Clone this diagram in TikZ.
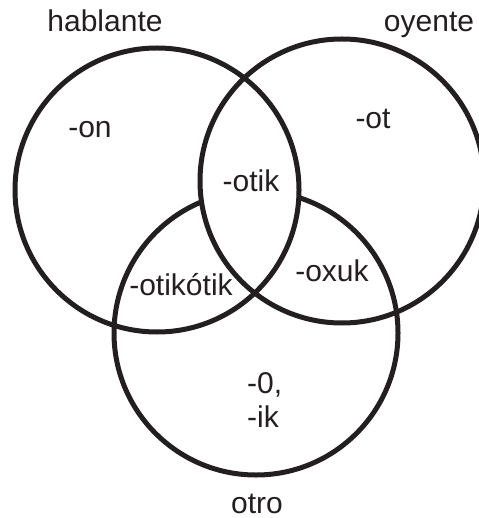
\documentclass[tikz,border=0pt]{standalone}
\usepackage{fontspec}
\setmainfont{Liberation Sans}
\definecolor{ink}{HTML}{231F20}
\begin{document}
\begin{tikzpicture}[x=1pt,y=-1pt,
  ring/.style={draw=ink,line width=5pt,circle,minimum size=284pt,inner sep=0pt},
  lab/.style={font=\fontsize{30}{36}\selectfont,text=ink,inner sep=0pt,anchor=base}]
\useasboundingbox (0,0) rectangle (478,518);
\coordinate (cL) at (157,190);
\coordinate (cR) at (342,181);
\coordinate (cB) at (256,333);
\node[ring] (B) at (cB) {};
\begin{scope}
  \clip (cL) circle (142);
  \fill[white] (cR) circle (142);
\end{scope}
\node[ring] (L) at (cL) {};
\node[ring] (R) at (cR) {};
\node[lab] (hab) at (105,32) {hablante};
\node[lab] (oye) at (429,32) {oyente};
\node[lab] (otr) at (257,513) {otro};
\node[lab] (on) at (90,138) {-on};
\node[lab] (ot) at (373,129) {-ot};
\node[lab] (otik) at (251,191.5) {-otik};
\node[lab] (otk2) at (181,295) {-otikótik};
\node[lab] (oxuk) at (332,281) {-oxuk};
\node[lab,anchor=base west] (zero) at (247,393) {-0,};
\node[lab,anchor=base west] (ik) at (247,427) {-ik};
\end{tikzpicture}
\end{document}
